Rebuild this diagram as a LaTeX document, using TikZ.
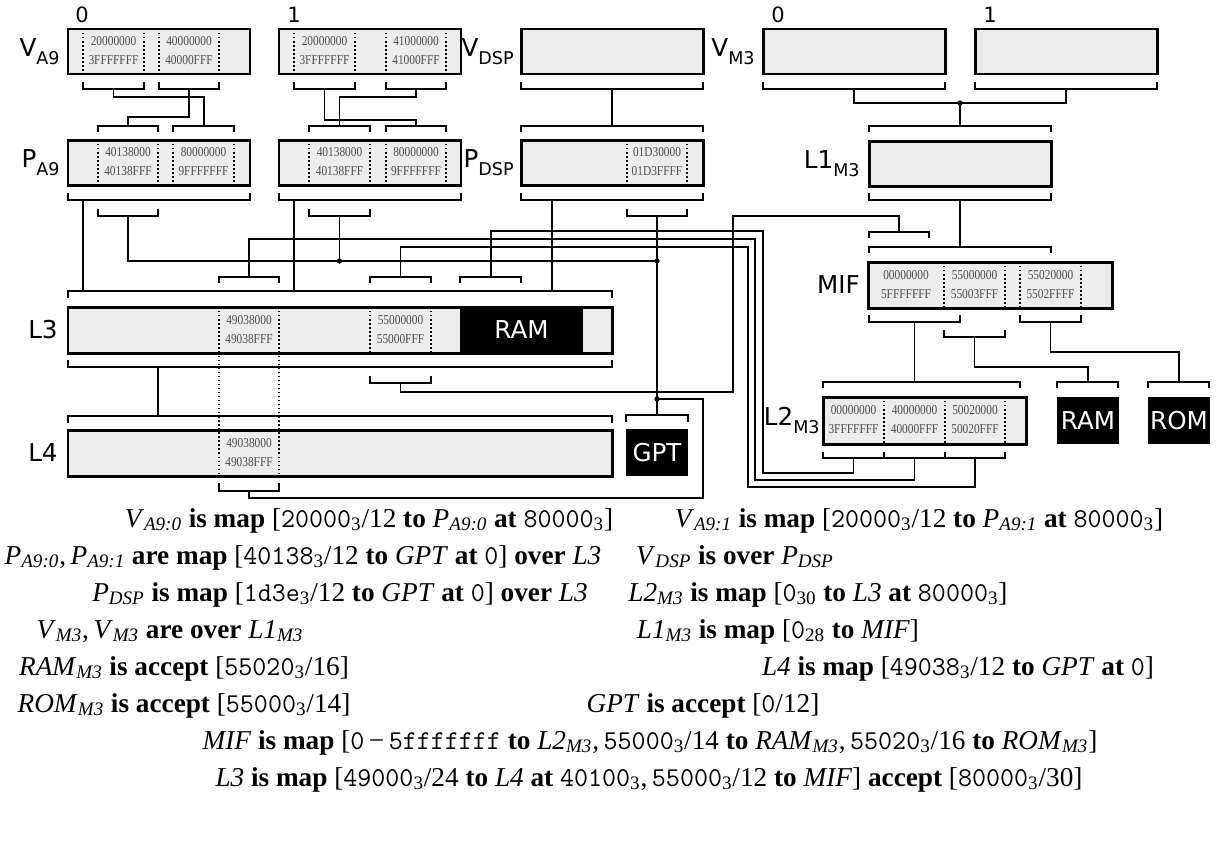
\documentclass[tikz,border=0pt]{standalone}
\usepackage{fontspec}
\usepackage{graphicx}
\setmainfont{Liberation Serif}
\newfontfamily\dejavu{DejaVu Sans}
\definecolor{boxgray}{RGB}{236,236,236}
\newcommand\lsub[2]{#1\raisebox{-4.5pt}{\fontsize{10}{10}\selectfont #2}}
\newcommand\hexpair[2]{\scalebox{0.84}[1]{\fontsize{7.7}{10.8}\selectfont\begin{tabular}{@{}c@{}}#1\\#2\end{tabular}}}
\newcommand\nsub[2]{\textit{#1}\textsubscript{\textit{#2}}}
\newcommand\kw[1]{\textbf{#1}}
\newcommand\hx[1]{\texttt{#1}}
\newcommand\thr[1]{\texttt{#1}\textsubscript{3}}
\newcommand\brk[4]{\draw[wire] (#1,#3) -- (#1,#4) -- (#2,#4) -- (#2,#3);}
\tikzset{
  box/.style={draw=black,line width=1.7pt},
  wire/.style={line width=1.1pt},
  sepline/.style={line width=0.8pt,dash pattern=on 0.8pt off 1.5pt},
  hex/.style={inner sep=0pt,text=black!70},
  lbl/.style={inner sep=0pt,font=\dejavu\fontsize{14}{16}\selectfont},
  idx/.style={inner sep=0pt,font=\dejavu\fontsize{12}{14}\selectfont},
  blk/.style={inner sep=0pt,text=white,font=\dejavu\fontsize{14}{16}\selectfont},
  junc/.style={circle,fill=black,inner sep=0pt,minimum size=3pt},
  rule/.style={inner sep=0pt,anchor=base,font=\fontsize{15.5}{18}\selectfont},
}
\newcommand\hexseg[7]{%
  \draw[sepline] (#2,#4) -- (#2,#5) (#3,#4) -- (#3,#5);
  \node[hex] (#1) at ({(#2+#3)/2},{(#4+#5)/2}) {\hexpair{#6}{#7}};}
\begin{document}
\begin{tikzpicture}[x=0.02cm,y=-0.02cm]
\useasboundingbox[fill=white] (0,0) rectangle (1220,853);
% box fills
\foreach \a/\b/\c/\d in {68/29/250/74, 279/29/461/74, 521/29/703/74, 763/29/945/74, 975/29/1157/74,
  68/140/250/185, 279/140/461/185, 521/140/703/185, 869/141/1051/186, 868/262/1112/308,
  68/307/612/353, 68/430/612/476, 823/397/1026/444}
  \fill[boxgray] (\a,\b) rectangle (\c,\d);
\fill[black] (460,307) rectangle (583,353);
% segments
\hexseg{va0a}{83}{144}{29}{74}{20000000}{3FFFFFFF}
\hexseg{va0b}{159}{219}{29}{74}{40000000}{40000FFF}
\hexseg{va1a}{294}{355}{29}{74}{20000000}{3FFFFFFF}
\hexseg{va1b}{386}{446}{29}{74}{41000000}{41000FFF}
\hexseg{pa0a}{98}{158}{140}{185}{40138000}{40138FFF}
\hexseg{pa0b}{173}{234}{140}{185}{80000000}{9FFFFFFF}
\hexseg{pa1a}{309}{370}{140}{185}{40138000}{40138FFF}
\hexseg{pa1b}{386}{446}{140}{185}{80000000}{9FFFFFFF}
\hexseg{pdsp}{627}{687}{140}{185}{01D30000}{01D3FFFF}
\hexseg{mifa}{868}{944}{262}{308}{00000000}{5FFFFFFF}
\hexseg{mifb}{944}{1005}{262}{308}{55000000}{55003FFF}
\hexseg{mifc}{1020}{1081}{262}{308}{55020000}{5502FFFF}
\hexseg{lthb}{370}{431}{307}{353}{55000000}{55000FFF}
\hexseg{ltwa}{823}{884}{397}{444}{00000000}{3FFFFFFF}
\hexseg{ltwb}{884}{945}{397}{444}{40000000}{40000FFF}
\hexseg{ltwc}{945}{1005}{397}{444}{50020000}{50020FFF}
\draw[sepline] (219,307) -- (219,476) (279,307) -- (279,476);
\node[hex] (ltha) at (249,330) {\hexpair{49038000}{49038FFF}};
\node[hex] (lfoa) at (249,453) {\hexpair{49038000}{49038FFF}};
% borders
\foreach \a/\b/\c/\d in {68/29/250/74, 279/29/461/74, 521/29/703/74, 763/29/945/74, 975/29/1157/74,
  68/140/250/185, 279/140/461/185, 521/140/703/185, 869/141/1051/186, 868/262/1112/308,
  68/307/612/353, 68/430/612/476, 823/397/1026/444}
  \draw[box] (\a,\b) rectangle (\c,\d);
\node[blk] (ramthree) at (521.5,330) {RAM};
% black boxes
\fill[black] (626,429) rectangle (688,476);
\node[blk] (gpt) at (657,452.5) {GPT};
\fill[black] (1057,397) rectangle (1119,444);
\node[blk] (ramm) at (1088,420.5) {RAM};
\fill[black] (1148,397) rectangle (1210,444);
\node[blk] (rom) at (1179,420.5) {ROM};
% labels
\node[idx] (ia0) at (82,15) {0};
\node[idx] (ia1) at (294,15) {1};
\node[idx] (im0) at (778,15) {0};
\node[idx] (im1) at (990,15) {1};
\node[lbl,anchor=east] (lva) at (60,51.5) {\lsub{V}{A9}};
\node[lbl,anchor=east] (lpa) at (60,162.5) {\lsub{P}{A9}};
\node[lbl,anchor=east] (lvd) at (514,51.5) {\lsub{V}{DSP}};
\node[lbl,anchor=east] (lpd) at (514,162.5) {\lsub{P}{DSP}};
\node[lbl,anchor=east] (lvm) at (755,51.5) {\lsub{V}{M3}};
\node[lbl,anchor=east] (llo) at (860,163.5) {\lsub{L1}{M3}};
\node[lbl,anchor=east] (lmif) at (860,285) {MIF};
\node[lbl,anchor=east] (llth) at (58,330) {L3};
\node[lbl,anchor=east] (llfo) at (58,453) {L4};
\node[lbl,anchor=east] (lltw) at (820,420.5) {\lsub{L2}{M3}};
% brackets below V row
\brk{83}{144}{82}{89} \brk{159}{219}{82}{89}
\brk{294}{355}{82}{89} \brk{386}{446}{82}{89}
\brk{521}{703}{82}{89} \brk{763}{945}{82}{89} \brk{975}{1157}{82}{89}
% brackets above P row
\brk{98}{158}{132}{126} \brk{173}{234}{132}{126}
\brk{309}{370}{132}{126} \brk{386}{446}{132}{126}
\brk{521}{703}{132}{126} \brk{869}{1051}{132}{126}
% brackets below P row
\brk{68}{250}{193}{200} \brk{279}{461}{193}{200} \brk{521}{703}{193}{200} \brk{869}{1051}{193}{200}
\brk{98}{158}{209}{216} \brk{309}{370}{209}{216} \brk{627}{687}{209}{216}
% above MIF
\brk{869}{929}{238}{232} \brk{869}{1051}{253}{247}
% above L3
\brk{68}{612}{298}{291}
\brk{219}{279}{283}{277} \brk{370}{431}{283}{277} \brk{460}{521}{283}{277}
% below MIF
\brk{869}{960}{315}{322} \brk{944}{1005}{330}{337} \brk{1020}{1081}{315}{322}
% below L3
\brk{68}{612}{360}{367} \brk{370}{431}{376}{383}
% above L2 row
\brk{823}{1020}{388}{382} \brk{1057}{1118}{388}{382} \brk{1148}{1209}{388}{382}
% above L4 row
\brk{68}{612}{423}{416} \brk{626}{688}{422}{415}
% below L4
\brk{219}{279}{483}{491}
% below L2
\brk{823}{884}{452}{458} \brk{884}{945}{452}{458} \brk{945}{1005}{452}{458}
% junctions
\coordinate (jm) at (960,103);
\coordinate (ja) at (339.5,261);
\coordinate (jg) at (657,261);
\coordinate (jl) at (657,399);
% connectors
\draw[wire] (113.5,89) -- (113.5,97) -- (204,97) -- (204,126);
\draw[wire] (189,89) -- (189,117) -- (128,117) -- (128,126);
\draw[wire] (324.5,89) -- (324.5,120) -- (416,120) -- (416,126);
\draw[wire] (416,89) -- (416,97) -- (339.5,97) -- (339.5,126);
\draw[wire] (612,89) -- (612,126);
\draw[wire] (854,89) -- (854,103) -- (1066,103) -- (1066,89);
\draw[wire] (jm) -- (960,126);
\draw[wire] (960,200) -- (960,247);
\draw[wire] (83,200) -- (83,291);
\draw[wire] (294,200) -- (294,291);
\draw[wire] (552,200) -- (552,291);
\draw[wire] (128,216) -- (128,261) -- (jg);
\draw[wire] (339.5,216) -- (ja);
\draw[wire] (657,216) -- (jg) -- (jl) -- (657,415);
\draw[wire] (158,367) -- (158,416);
\draw[wire] (400.5,383) -- (400.5,392) -- (733,392) -- (733,216) -- (899,216) -- (899,232);
\draw[wire] (249,491) -- (249,498) -- (703,498) -- (703,399) -- (jl);
\draw[wire] (914.5,322) -- (914.5,382);
\draw[wire] (974.5,337) -- (974.5,367) -- (1088,367) -- (1088,382);
\draw[wire] (1050.5,322) -- (1050.5,352) -- (1179,352) -- (1179,382);
\draw[wire] (853.5,458) -- (853.5,473) -- (763,473) -- (763,231) -- (491,231) -- (491,277);
\draw[wire] (914.5,458) -- (914.5,480) -- (755,480) -- (755,239) -- (249,239) -- (249,277);
\draw[wire] (975,458) -- (975,487) -- (748,487) -- (748,247) -- (400.5,247) -- (400.5,277);
\node[junc] at (jm) {};
\node[junc] at (ja) {};
\node[junc] at (jg) {};
\node[junc] at (jl) {};
% rules text
\node[rule] (r1l) at (369,527) {\nsub{V}{A9:0} \kw{is map} [\thr{20000}/12 \kw{to} \nsub{P}{A9:0} \kw{at} \thr{80000}]};
\node[rule] (r1r) at (919,527) {\nsub{V}{A9:1} \kw{is map} [\thr{20000}/12 \kw{to} \nsub{P}{A9:1} \kw{at} \thr{80000}]};
\node[rule] (r2l) at (303,564) {\nsub{P}{A9:0},\,\nsub{P}{A9:1} \kw{are map} [\thr{40138}/12 \kw{to} \textit{GPT} \kw{at} \hx{0}] \kw{over} \textit{L3}};
\node[rule] (r2r) at (735,564) {\nsub{V}{DSP} \kw{is over} \nsub{P}{DSP}};
\node[rule] (r3l) at (340,601) {\nsub{P}{DSP} \kw{is map} [\thr{1d3e}/12 \kw{to} \textit{GPT} \kw{at} \hx{0}] \kw{over} \textit{L3}};
\node[rule] (r3r) at (818,601) {\nsub{L2}{M3} \kw{is map} [\hx{0}\textsubscript{30} \kw{to} \textit{L3} \kw{at} \thr{80000}]};
\node[rule] (r4l) at (170,638) {\nsub{V}{M3},\,\nsub{V}{M3} \kw{are over} \nsub{L1}{M3}};
\node[rule] (r4r) at (778,638) {\nsub{L1}{M3} \kw{is map} [\hx{0}\textsubscript{28} \kw{to} \textit{MIF}]};
\node[rule] (r5l) at (184,675) {\nsub{RAM}{M3} \kw{is accept} [\thr{55020}/16]};
\node[rule] (r5r) at (958,675) {\textit{L4} \kw{is map} [\thr{49038}/12 \kw{to} \textit{GPT} \kw{at} \hx{0}]};
\node[rule] (r6l) at (184,712) {\nsub{ROM}{M3} \kw{is accept} [\thr{55000}/14]};
\node[rule] (r6r) at (703,712) {\textit{GPT} \kw{is accept} [\hx{0}/12]};
\node[rule] (r7) at (650,749) {\textit{MIF} \kw{is map} [\hx{0}\,−\,\hx{5fffffff} \kw{to} \nsub{L2}{M3},\,\thr{55000}/14 \kw{to} \nsub{RAM}{M3},\,\thr{55020}/16 \kw{to} \nsub{ROM}{M3}]};
\node[rule] (r8) at (649,786) {\textit{L3} \kw{is map} [\thr{49000}/24 \kw{to} \textit{L4} \kw{at} \thr{40100},\,\thr{55000}/12 \kw{to} \textit{MIF}] \kw{accept} [\thr{80000}/30]};
\end{tikzpicture}
\end{document}
